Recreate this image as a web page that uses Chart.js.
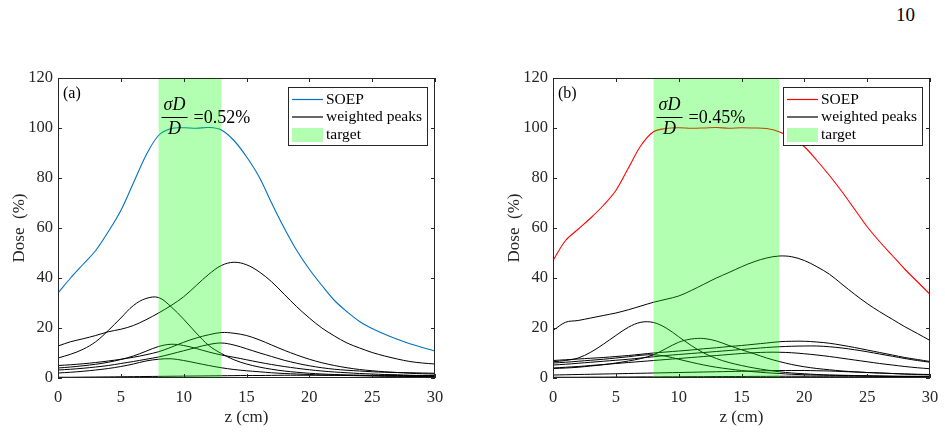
<!DOCTYPE html>
<html><head><meta charset="utf-8">
<script src="https://cdn.jsdelivr.net/npm/chart.js@4/dist/chart.umd.min.js"></script>
<style>
body{margin:0;background:#fff;width:945px;height:434px;overflow:hidden;position:relative;font-family:"Liberation Serif",serif}
.c{position:absolute;top:0;height:434px}
#pg{position:absolute;left:896px;top:5px;font-size:19px;line-height:19px;color:#000;font-family:"Liberation Serif",serif}
</style></head><body>
<div id="pg">10</div>
<div class="c" style="left:0;width:460px"><canvas id="ca"></canvas></div>
<div class="c" style="left:495px;width:450px"><canvas id="cb"></canvas></div>
<script>
const Z = [0,1,2,3,4,5,6,7,8,9,10,11,12,13,14,15,16,17,18,19,20,21,22,23,24,25,26,27,28,29,30];
const X_TICKS = [0,5,10,15,20,25,30];
const Y_TICKS = [0,20,40,60,80,100,120];

// panel (a)
const soepA = [34,40,45.5,51,58.5,67,78,89,97,99.8,100.1,99.9,100.2,99.2,95,88.5,80.5,70,60,51,43.5,37,31,26.5,22.6,19.8,17.5,15.5,13.7,12.2,10.8];
const peaksA = [
  [12.8,14.5,15.7,17,18.5,19.5,21,23.3,26,29,32.5,37,41.5,45,46.3,45.3,42.5,38.5,33.5,28.5,24,20,16.8,14,12,10.2,8.8,7.6,6.6,6,5.6],
  [8,9.5,11.5,14.5,19,24,29,31.8,32.2,28.5,23.5,18,13,9.8,7.3,5.6,4.4,3.5,2.8,2.3,1.9,1.6,1.4,1.2,1.05,0.95,0.85,0.75,0.7,0.6,0.55],
  [5,5.3,5.7,6.2,6.8,7.5,8.3,9.3,10.5,12.3,14.3,16,17.3,18.2,17.9,17,15.3,13.2,11.1,9.2,7.5,6.1,5,4.1,3.4,2.9,2.5,2.2,1.9,1.7,1.6],
  [3.2,3.5,3.9,4.4,5,5.8,6.6,7.5,8.4,9.6,10.9,12.2,13.4,14,13.2,11.7,10.1,8.6,7.1,5.9,4.9,4.1,3.5,3.1,2.8,2.5,2.3,2.2,2.1,2,1.9],
  [4,4.4,4.9,5.5,6.3,7.4,8.8,10.7,12.6,13.5,13,11.8,10.4,9.2,8.3,7.3,6.3,5.4,4.6,3.9,3.3,2.8,2.4,2.1,1.8,1.6,1.4,1.3,1.1,1,0.9],
  [2,2.3,2.7,3.2,3.8,4.6,5.6,6.8,7.5,7.7,7,6,5,4.1,3.4,2.9,2.5,2.1,1.8,1.6,1.4,1.2,1.1,1,0.9,0.8,0.7,0.7,0.6,0.6,0.5],
  [0.3,0.3,0.35,0.4,0.45,0.5,0.55,0.6,0.65,0.7,0.75,0.8,0.85,0.9,0.95,1,1,1.05,1.1,1.1,1.1,1.1,1.1,1.1,1.1,1.05,1.05,1,1,1,1]
];
const targetA = [8,13];
const sigmaA = "=0.52%";

// panel (b)
const soepB = [47,55,59.5,64,69,75,84,93,98.5,99.8,100.1,99.9,100,100.2,99.9,100.1,100,99.8,98.5,96,92.5,87,81,74.5,67.5,60.5,54.5,49,43.5,38.5,33.5];
const peaksB = [
  [19,22.3,23,24,25,26,27.3,28.8,30.3,31.5,32.8,35,37.5,40,42.2,44.5,46.5,48,48.8,48.5,47,44.5,41.5,37.5,33.5,29.8,26.5,23.5,20.5,17.8,15],
  [6.5,7,8,10.3,13.5,17,20.3,22.3,22.2,20,16.5,13,10,7.8,6.2,5,4,3.2,2.5,2,1.7,1.4,1.2,1.1,1,0.9,0.8,0.7,0.6,0.6,0.5],
  [3.8,4,4.3,4.8,5.3,6,6.8,7.8,9.3,11.8,14.3,15.6,15.8,14.8,13,11.3,9.7,8,6.6,5.4,4.5,3.8,3.3,2.8,2.5,2.2,2,1.8,1.6,1.5,1.4],
  [7,7.3,7.6,7.9,8.2,8.6,9,9.5,10,10.4,10.8,11.2,11.7,12.1,12.6,13,13.5,14,14.5,14.7,14.7,14.4,13.9,13.1,12.2,11.2,10.2,9.2,8.2,7.4,6.6],
  [5.2,5.5,5.9,6.3,6.7,7.1,7.5,8,8.5,9,9.4,9.8,10.2,10.6,11,11.4,11.8,12.2,12.5,12.7,12.8,12.8,12.5,12,11.3,10.5,9.6,8.7,7.8,7,6.3],
  [4,4.3,4.6,5,5.4,5.8,6.2,6.6,7,7.4,7.8,8.2,8.6,9,9.4,9.8,10.1,10.3,10.3,10.1,9.7,9.2,8.6,7.9,7.2,6.5,5.8,5.2,4.6,4.1,3.7],
  [6,6.3,6.7,7.1,7.5,8,8.5,9.1,9.3,8.7,7.5,6.3,5.2,4.3,3.6,3,2.5,2.1,1.8,1.5,1.3,1.2,1.1,1,0.9,0.8,0.7,0.6,0.5,0.5,0.4],
  [1.2,1.3,1.4,1.5,1.6,1.7,1.8,1.9,2,2.1,2.2,2.3,2.4,2.5,2.6,2.7,2.8,2.9,3,3,3,2.9,2.8,2.6,2.4,2.2,2,1.8,1.6,1.4,1.3],
  [0.3,0.3,0.3,0.35,0.35,0.4,0.4,0.45,0.45,0.5,0.5,0.55,0.55,0.6,0.6,0.6,0.65,0.65,0.7,0.7,0.7,0.7,0.7,0.7,0.7,0.7,0.7,0.7,0.7,0.7,0.7]
];
const targetB = [8,18];
const sigmaB = "=0.45%";

const LEGEND = ["SOEP","weighted peaks","target"];
const AXIS = '#262626';
const SERIF = '"Liberation Serif", "Times New Roman", serif';

function pts(arr){ return Z.map((z,i)=>({x:z,y:arr[i]})); }

function overlay(o){
  return {
    id:'ov',
    afterDatasetsDraw(chart){
      const {ctx, chartArea:a, scales:{x,y}} = chart;
      ctx.save();
      const bx0 = x.getPixelForValue(o.target[0]), bx1 = x.getPixelForValue(o.target[1]);
      ctx.fillStyle = 'rgba(0,255,0,0.3)';
      ctx.fillRect(bx0, a.top, bx1-bx0, a.bottom-a.top);
      ctx.strokeStyle = AXIS; ctx.lineWidth = 1;
      ctx.strokeRect(Math.round(a.left)+0.5, Math.round(a.top)+0.5, Math.round(a.right-a.left)-1, Math.round(a.bottom-a.top)-1);
      const tl = 4;
      ctx.beginPath();
      X_TICKS.forEach(v=>{ const px=Math.round(x.getPixelForValue(v))+0.5;
        ctx.moveTo(px,a.bottom); ctx.lineTo(px,a.bottom-tl);
        ctx.moveTo(px,a.top); ctx.lineTo(px,a.top+tl); });
      Y_TICKS.forEach(v=>{ const py=Math.round(y.getPixelForValue(v))+0.5;
        ctx.moveTo(a.left,py); ctx.lineTo(a.left+tl,py);
        ctx.moveTo(a.right,py); ctx.lineTo(a.right-tl,py); });
      ctx.stroke();
      ctx.fillStyle = '#000';
      ctx.font = '16px ' + SERIF;
      ctx.textBaseline = 'middle'; ctx.textAlign = 'left';
      ctx.fillText(o.letter, a.left+5, a.top+16);
      const fx = bx0 + 3;
      ctx.font = 'italic 18px ' + SERIF;
      ctx.textAlign = 'center';
      ctx.fillText('\u03C3D', fx+13, a.top+27);
      ctx.fillText('D', fx+13, a.top+51);
      ctx.fillRect(fx, a.top+39, 26, 1);
      ctx.font = '18px ' + SERIF;
      ctx.textAlign = 'left';
      ctx.fillText(o.sigma, bx0+35, a.top+40);
      const lw = 139, lh = 58;
      const lx = a.right - 8 - lw, ly = a.top + 9;
      ctx.fillStyle = '#fff';
      ctx.fillRect(lx, ly, lw, lh);
      ctx.strokeStyle = AXIS; ctx.lineWidth = 1;
      ctx.strokeRect(Math.round(lx)+0.5, Math.round(ly)+0.5, lw, lh);
      const rows = [ly+12.5, ly+30, ly+48];
      ctx.lineWidth = 1.2;
      ctx.strokeStyle = o.color;
      ctx.beginPath(); ctx.moveTo(lx+4, rows[0]); ctx.lineTo(lx+35, rows[0]); ctx.stroke();
      ctx.strokeStyle = '#000';
      ctx.beginPath(); ctx.moveTo(lx+4, rows[1]); ctx.lineTo(lx+35, rows[1]); ctx.stroke();
      ctx.fillStyle = 'rgba(0,255,0,0.3)';
      ctx.fillRect(lx+4, rows[2]-7, 31, 14);
      ctx.fillStyle = '#000';
      ctx.font = '15.5px ' + SERIF;
      ctx.textBaseline = 'middle';
      LEGEND.forEach((t,i)=>ctx.fillText(t, lx+38, rows[i]));
      ctx.restore();
    }
  };
}

function makeChart(id, soep, peaks, color, o, rightPad){
  const ds = [{data:pts(soep), borderColor:color, borderWidth:1.1}];
  peaks.forEach(p=>ds.push({data:pts(p), borderColor:'#000', borderWidth:1}));
  ds.forEach(d=>{ d.pointRadius=0; d.fill=false; d.tension=0.35; });
  return new Chart(document.getElementById(id), {
    type:'line',
    data:{datasets:ds},
    options:{
      responsive:true, maintainAspectRatio:false, animation:false,
      layout:{padding:{top:78, right:rightPad, left:0, bottom:0}},
      plugins:{legend:{display:false}, tooltip:{enabled:false}},
      scales:{
        x:{type:'linear', min:0, max:30,
           afterBuildTicks(s){ s.ticks = X_TICKS.map(v=>({value:v})); },
           ticks:{color:AXIS, font:{family:SERIF, size:16.5}, padding:10, maxRotation:0, autoSkip:false},
           grid:{display:false, drawTicks:false}, border:{display:false},
           title:{display:true, text:'z (cm)', color:AXIS, font:{family:SERIF, size:17}, padding:{top:0,bottom:6}},
           afterFit(s){ s.height = 56; s.paddingLeft = 0; s.paddingRight = 0; }},
        y:{type:'linear', min:0, max:120,
           afterBuildTicks(s){ s.ticks = Y_TICKS.map(v=>({value:v})); },
           ticks:{color:AXIS, font:{family:SERIF, size:16.5}, padding:5},
           grid:{display:false, drawTicks:false}, border:{display:false},
           title:{display:true, text:'Dose  (%)', color:AXIS, font:{family:SERIF, size:17}, padding:{top:9,bottom:0}},
           afterFit(s){ s.width = 58; s.paddingTop = 0; s.paddingBottom = 0; }}
      }
    },
    plugins:[overlay(o)]
  });
}

makeChart('ca', soepA, peaksA, '#0072BD', {target:targetA, sigma:sigmaA, letter:'(a)', color:'#0072BD'}, 25);
makeChart('cb', soepB, peaksB, '#FF0000', {target:targetB, sigma:sigmaB, letter:'(b)', color:'#FF0000'}, 15);
</script>
</body></html>
